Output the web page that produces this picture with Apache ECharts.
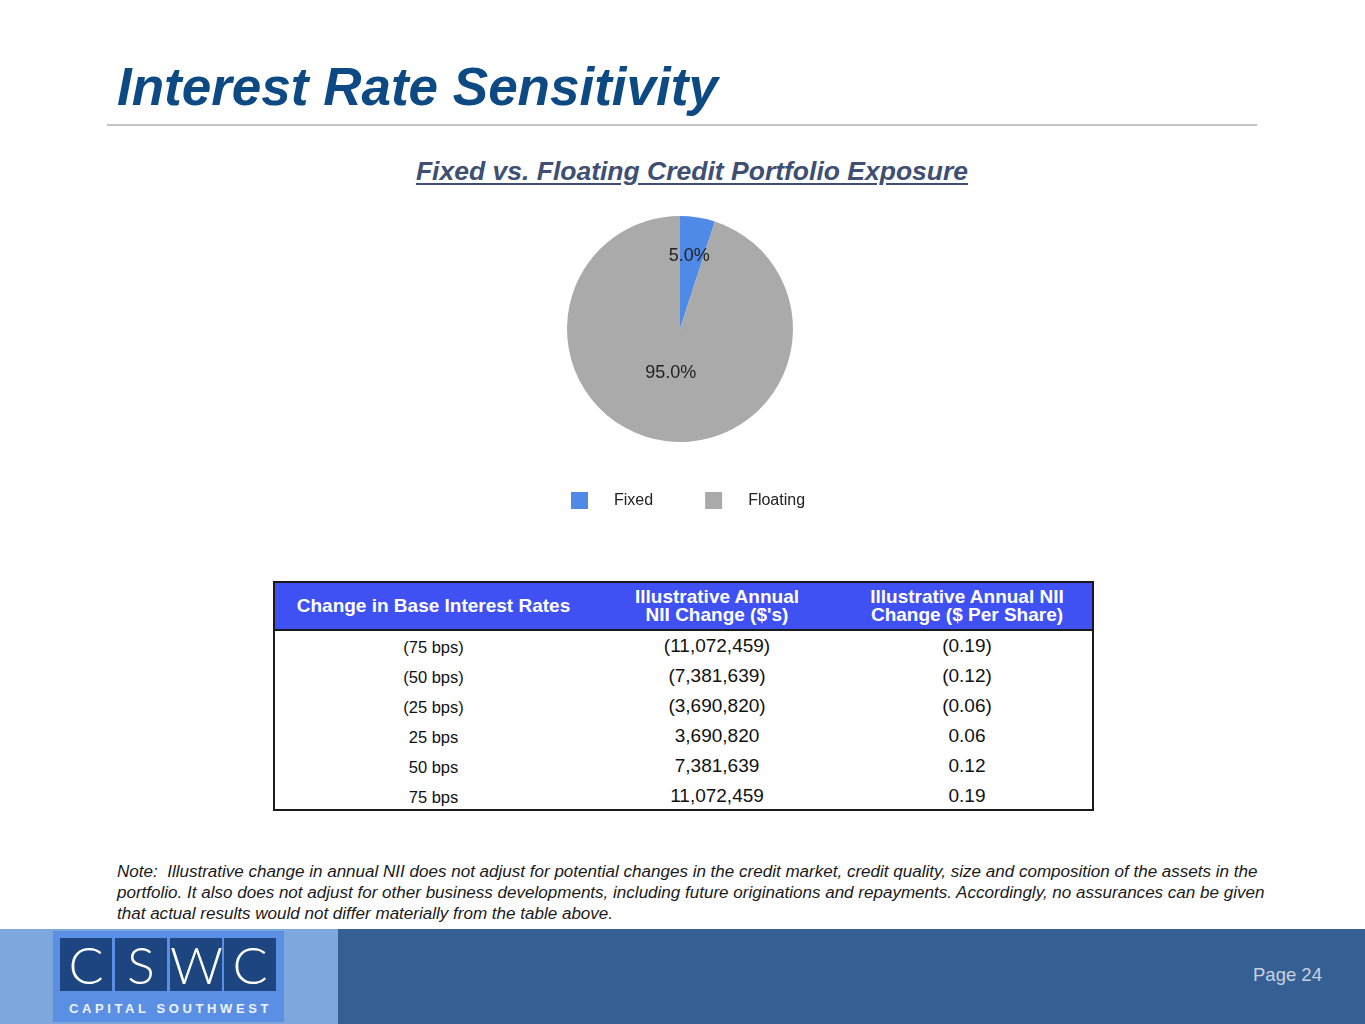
<!DOCTYPE html>
<html>
<head>
<meta charset="utf-8">
<script src="https://cdn.jsdelivr.net/npm/echarts@6/dist/echarts.min.js"></script>
<style>
  html, body { margin: 0; padding: 0; width: 1365px; height: 1024px; overflow: hidden; background: #fff; font-family: "Liberation Sans", Arial, sans-serif; }
  .abs { position: absolute; }
  #title { left: 117px; top: 52px; font-size: 53px; font-weight: bold; font-style: italic; color: #0d4a84; white-space: nowrap; line-height: 70px; }
  #rule { left: 107px; top: 124px; width: 1150px; height: 2px; background: #c3c3c3; }
  #subtitle { left: 0; width: 1384px; top: 154px; text-align: center; font-size: 26.5px; font-weight: bold; font-style: italic; color: #3e4f73; text-decoration: underline; text-underline-offset: 3px; line-height: 34px; white-space: nowrap; }
  #chart { left: 0; top: 0; width: 1365px; height: 560px; }
  table { position: absolute; left: 273px; top: 581px; width: 819px; border-collapse: collapse; border: 2px solid #1a1a1a; table-layout: fixed; }
  th { background: #3f51f3; color: #fff; font-weight: bold; font-size: 19px; line-height: 18px; height: 46px; padding: 0; border-bottom: 2px solid #1a1a1a; }
  tr.r td { height: 30px; padding: 0; text-align: center; color: #111; font-size: 19px; line-height: 20px; vertical-align: middle; }
  tr.r td.c1 { font-size: 16.5px; padding-top: 2px; height: 28px; }
  tr.r:last-child td { height: 27px; padding-top: 1px; }
  tr.r:last-child td.c1 { height: 25px; padding-top: 3px; }
  #note { left: 117px; top: 861px; font-size: 17.05px; font-style: italic; color: #1a1a1a; line-height: 21px; white-space: nowrap; }
  #footL { left: 0; top: 929px; width: 338px; height: 95px; background: #7ea8dd; }
  #footR { left: 338px; top: 929px; width: 1027px; height: 95px; background: #365f93; }
  #logo { left: 53px; top: 931px; width: 231px; height: 91px; background: #5a8fe4; }
  .tile { position: absolute; top: 7px; width: 52px; height: 53px; background: #1d4580; color: #fff; font-family: Lato, "Open Sans", sans-serif; font-weight: 300; font-size: 52px; line-height: 53px; text-align: center; }
  #cap { position: absolute; left: 0; width: 231px; top: 70px; text-align: center; color: #eef3ff; font-weight: bold; font-size: 13px; letter-spacing: 3.6px; line-height: 16px; white-space: nowrap; padding-left: 2px; }
  #page { left: 1253px; top: 963px; font-size: 18.5px; color: #c6d2e2; line-height: 24px; }
</style>
</head>
<body>
<div id="title" class="abs">Interest Rate Sensitivity</div>
<div id="rule" class="abs"></div>
<div id="subtitle" class="abs">Fixed vs. Floating Credit Portfolio Exposure</div>
<div id="chart" class="abs"></div>
<table id="tbl"></table>
<div id="note" class="abs">Note:&nbsp; Illustrative change in annual NII does not adjust for potential changes in the credit market, credit quality, size and composition of the assets in the<br>portfolio. It also does not adjust for other business developments, including future originations and repayments. Accordingly, no assurances can be given<br>that actual results would not differ materially from the table above.</div>
<div id="footL" class="abs"></div>
<div id="footR" class="abs"></div>
<div id="logo" class="abs">
  <div class="tile" style="left:7px">C</div>
  <div class="tile" style="left:62px">S</div>
  <div class="tile" style="left:117px">W</div>
  <div class="tile" style="left:171px">C</div>
  <div id="cap">CAPITAL SOUTHWEST</div>
</div>
<div id="page" class="abs">Page 24</div>
<script>
// Pie data
var categories = ['Fixed', 'Floating'];
var shareValues = [5.0, 95.0];
var sliceColors = ['#4f8ae6', '#aaaaaa'];

// Table data
var tableHeaders = ['Change in Base Interest Rates', 'Illustrative Annual<br>NII Change ($\'s)', 'Illustrative Annual NII<br>Change ($ Per Share)'];
var rateChanges = ['(75 bps)', '(50 bps)', '(25 bps)', '25 bps', '50 bps', '75 bps'];
var niiChange = ['(11,072,459)', '(7,381,639)', '(3,690,820)', '3,690,820', '7,381,639', '11,072,459'];
var niiPerShare = ['(0.19)', '(0.12)', '(0.06)', '0.06', '0.12', '0.19'];

// build table
var html = '<colgroup><col style="width:318px"><col style="width:250px"><col style="width:251px"></colgroup>';
html += '<tr>' + tableHeaders.map(function (h) { return '<th>' + h + '</th>'; }).join('') + '</tr>';
for (var i = 0; i < rateChanges.length; i++) {
  html += '<tr class="r"><td class="c1">' + rateChanges[i] + '</td><td>' + niiChange[i] + '</td><td>' + niiPerShare[i] + '</td></tr>';
}
document.getElementById('tbl').innerHTML = html;

// label line heights lift the inside labels toward their reference positions
var labelLineHeights = [29, 29];
var chart = echarts.init(document.getElementById('chart'), null, { renderer: 'canvas' });
chart.setOption({
  animation: false,
  backgroundColor: 'transparent',
  legend: {
    left: 571,
    top: 492,
    padding: 0,
    itemWidth: 17,
    itemHeight: 17,
    itemGap: 52,
    icon: 'rect',
    data: categories,
    textStyle: { fontFamily: 'Liberation Sans, Arial', fontSize: 16, color: '#222', padding: [4, 0, 0, 21] }
  },
  series: [{
    type: 'pie',
    center: [680, 329],
    radius: [0, 113],
    startAngle: 90,
    clockwise: true,
    avoidLabelOverlap: false,
    label: {
      show: true,
      position: 'inside',
      fontFamily: 'Liberation Sans, Arial',
      fontSize: 18,
      color: '#222',
      formatter: function (p) { return p.value.toFixed(1) + '%\n '; }
    },
    labelLine: { show: false },
    itemStyle: { borderWidth: 0 },
    emphasis: { disabled: true },
    data: categories.map(function (c, i) {
      return { name: c, value: shareValues[i], itemStyle: { color: sliceColors[i] }, label: { lineHeight: labelLineHeights[i] } };
    })
  }]
});
</script>
</body>
</html>
